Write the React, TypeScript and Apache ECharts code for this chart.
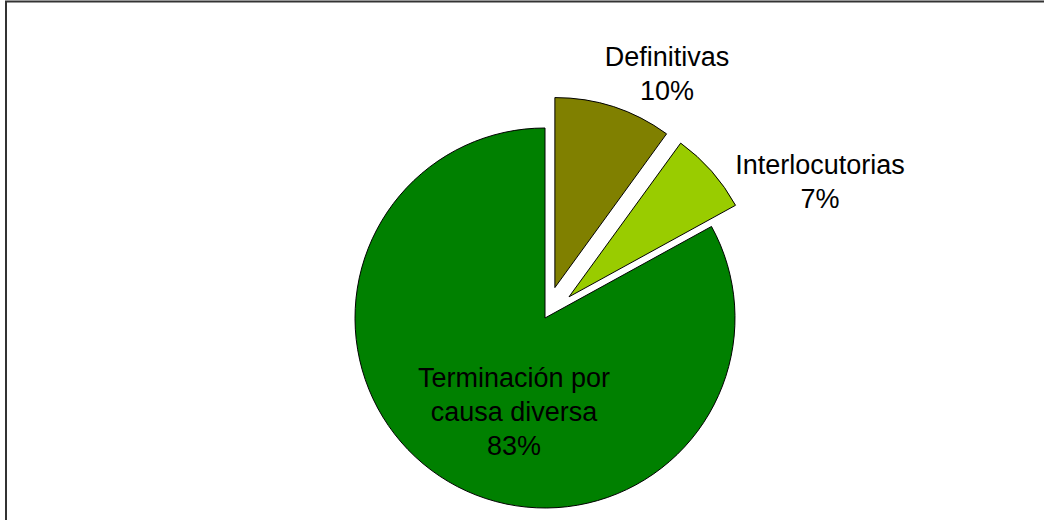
import React, { useEffect, useRef } from "react";
import * as echarts from "echarts";

const categories = ["Definitivas", "Interlocutorias", "Terminación por\ncausa diversa"];
const values = [10, 7, 83];
const colors = ["#808000", "#99CC00", "#008000"];
const exploded = [true, true, false];
const labelSpots: [number, number][] = [
  [667, 74],
  [820, 182],
  [514, 412],
];

export default function App() {
  const ref = useRef<HTMLDivElement>(null);
  useEffect(() => {
    if (!ref.current) return;
    const chart = echarts.init(ref.current, null, { renderer: "svg" });
    const total = values.reduce((a, b) => a + b, 0);
    const labels = categories.map((name, i) => ({
      type: "text",
      x: labelSpots[i][0],
      y: labelSpots[i][1],
      z: 100,
      style: {
        text: `${name}\n${Math.round((values[i] / total) * 100)}%`,
        fontFamily: "Liberation Sans, Arial, sans-serif",
        fontSize: 27,
        lineHeight: 34,
        fill: "#000000",
        align: "center",
        verticalAlign: "middle",
      },
    }));
    chart.setOption({
      animation: false,
      backgroundColor: "#ffffff",
      graphic: [
        { type: "line", shape: { x1: 5, y1: 1.5, x2: 1044, y2: 1.5 }, style: { stroke: "#333333", lineWidth: 2 } },
        { type: "line", shape: { x1: 6, y1: 1, x2: 6, y2: 520 }, style: { stroke: "#333333", lineWidth: 2 } },
        ...labels,
      ],
      series: [
        {
          type: "pie",
          center: [545, 318],
          radius: 190,
          startAngle: 90,
          clockwise: true,
          selectedMode: "multiple",
          selectedOffset: 32,
          emphasis: { disabled: true },
          itemStyle: { borderColor: "#000000", borderWidth: 1 },
          label: { show: false },
          labelLine: { show: false },
          data: categories.map((name, i) => ({
            name,
            value: values[i],
            selected: exploded[i],
            itemStyle: { color: colors[i] },
          })),
        },
      ],
    });
    return () => chart.dispose();
  }, []);
  return (
    <div
      ref={ref}
      style={{ position: "fixed", left: 0, top: 0, width: 1044, height: 520 }}
    />
  );
}
